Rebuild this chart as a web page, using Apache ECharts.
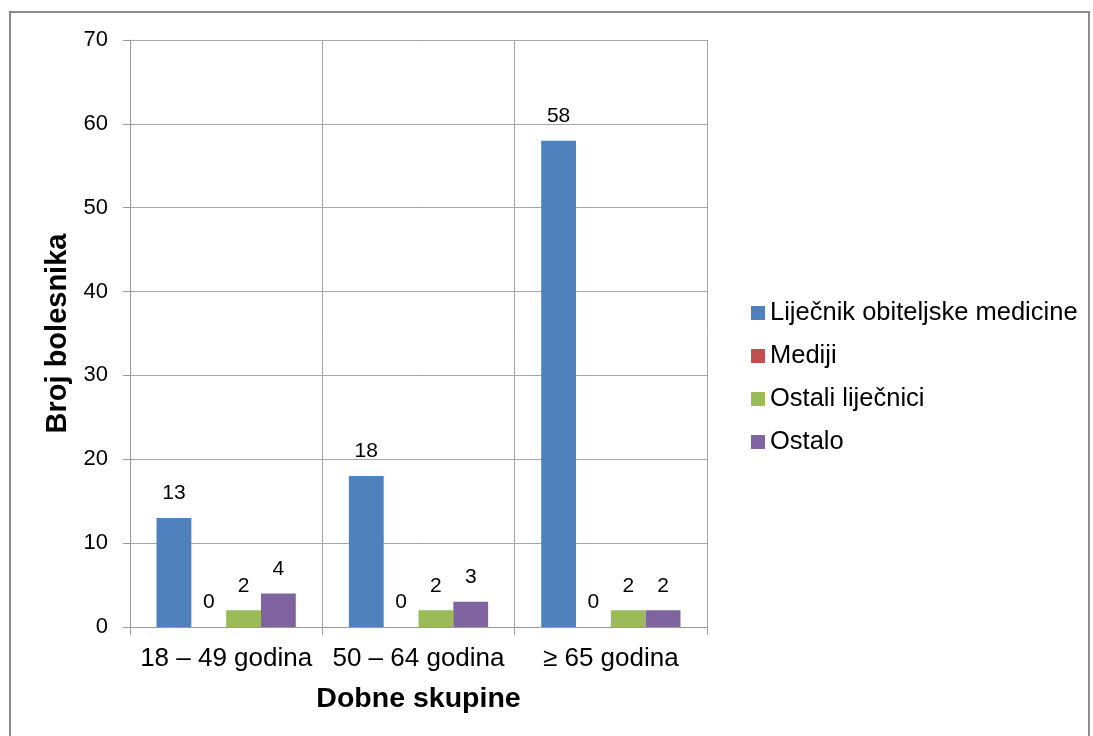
<!DOCTYPE html>
<html><head><meta charset="utf-8">
<script src="https://cdn.jsdelivr.net/npm/echarts@6/dist/echarts.min.js"></script>
<style>
html,body{margin:0;padding:0;background:#fff;}
#frame{position:absolute;left:9px;top:11px;width:1081px;height:740px;border:2px solid #8c8c8c;box-sizing:border-box;}
#c{position:absolute;left:0;top:0;width:1093px;height:736px;}
</style></head>
<body>
<div id="frame"></div>
<div id="c"></div>
<script>
var categories = ['18 – 49 godina', '50 – 64 godina', '≥ 65 godina'];
var seriesNames = ['Liječnik obiteljske medicine', 'Mediji', 'Ostali liječnici', 'Ostalo'];
var lijecnikObiteljske = [13, 18, 58];
var mediji = [0, 0, 0];
var ostaliLijecnici = [2, 2, 2];
var ostalo = [4, 3, 2];
var colors = ['#4F81BD', '#C0504D', '#9BBB59', '#8064A2'];
var yTicks = {min: 0, max: 70, interval: 10};

var dataSets = [lijecnikObiteljske, mediji, ostaliLijecnici, ostalo];
var chart = echarts.init(document.getElementById('c'), null, {renderer: 'canvas'});
var font = 'Liberation Sans, Arial, sans-serif';
chart.setOption({
  animation: false,
  textStyle: {fontFamily: font},
  color: colors,
  grid: {left: 130, top: 40, width: 577, height: 587, containLabel: false},
  legend: {
    orient: 'vertical', left: 746, top: 295, itemGap: 17, itemWidth: 14, itemHeight: 14,
    icon: 'rect',
    textStyle: {fontSize: 25.5, color: '#000', fontFamily: font},
    data: seriesNames
  },
  xAxis: {
    type: 'category', data: categories,
    name: 'Dobne skupine', nameLocation: 'middle', nameGap: 58,
    nameTextStyle: {fontSize: 28.5, fontWeight: 'bold', color: '#000', fontFamily: font},
    axisLine: {lineStyle: {color: '#9a9a9a', width: 1}},
    axisTick: {show: true, interval: 0, length: 8, alignWithLabel: false, lineStyle: {color: '#9a9a9a'}},
    axisLabel: {interval: 0, hideOverlap: false, fontSize: 26, color: '#000', margin: 19, fontFamily: font},
    splitLine: {show: true, interval: 0, lineStyle: {color: '#a6a6a6', width: 1}}
  },
  yAxis: {
    type: 'value', min: yTicks.min, max: yTicks.max, interval: yTicks.interval,
    name: 'Broj bolesnika', nameLocation: 'middle', nameGap: 57, nameRotate: 90,
    nameTextStyle: {fontSize: 29, fontWeight: 'bold', color: '#000', fontFamily: font},
    axisLine: {show: true, lineStyle: {color: '#9a9a9a', width: 1}},
    axisTick: {show: true, length: 7, lineStyle: {color: '#9a9a9a'}},
    axisLabel: {fontSize: 22, color: '#000', margin: 22, fontFamily: font},
    splitLine: {show: true, lineStyle: {color: '#a6a6a6', width: 1}}
  },
  series: seriesNames.map(function (n, i) {
    return {
      name: n, type: 'bar', data: dataSets[i],
      barGap: '0%', barCategoryGap: '27.6%',
      itemStyle: {color: colors[i]},
      label: {show: true, position: 'top', distance: 14, fontSize: 21, color: '#000', fontFamily: font}
    };
  })
});
</script>
</body></html>
